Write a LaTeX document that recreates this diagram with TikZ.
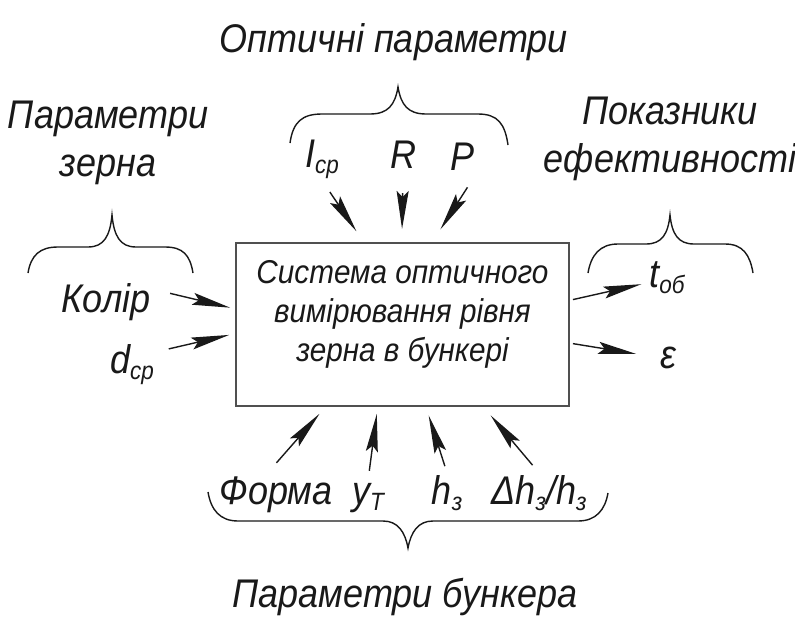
\documentclass[tikz,border=0pt]{standalone}
\usepackage{fontspec}
\setmainfont{Liberation Sans}[FakeStretch=0.9]
\usetikzlibrary{arrows.meta, positioning, calc}
\definecolor{inkdark}{RGB}{25,25,25}
\definecolor{boxgray}{RGB}{80,80,80}
\newcommand{\lowidx}[1]{\raisebox{-0.15em}{\fontsize{25}{25}\selectfont #1}}
\tikzset{
  lbl/.style={font=\fontsize{40}{46}\selectfont\itshape, inner sep=2pt, text=inkdark},
  ttl/.style={font=\fontsize{40}{48}\selectfont\itshape, inner sep=0pt, align=center, text=inkdark},
  sysbox/.style={draw=boxgray, line width=2pt, minimum width=333pt, minimum height=163pt,
    align=center, font=\fontsize{33}{39}\selectfont\itshape, text=inkdark},
  arr/.style={-{Stealth[length=38pt, width=12pt, inset=6pt]}, line width=1.4pt, color=inkdark},
  brc/.style={line width=1.4pt, color=inkdark}
}

\begin{document}
\begin{tikzpicture}[x=1pt, y=-1pt]
  \useasboundingbox (0,0) rectangle (795,616);

  % --- central block ---
  \node[sysbox] (sys) at (402.5,324.5) {Система оптичного\\вимірювання рівня\\зерна в бункері\\[-12pt]\mbox{}};

  % --- group titles ---
  \node[ttl, anchor=base] (optTitle) at (394,52) {Оптичні параметри};
  \node[ttl, anchor=north] (grainTitle) at (108,101) {Параметри\\зерна};
  \node[ttl, anchor=north] (effTitle) at (670,97) {Показники\\ефективності};
  \node[ttl, anchor=base] (bunkTitle) at (405,607) {Параметри бункера};

  % --- braces ---
  \draw[brc] (290,143) .. controls (293,122) and (302,114) .. (322,114) -- (370,114)
    .. controls (388,114) and (395,105) .. (398,87) .. controls (401,105) and (408,114) .. (426,114)
    -- (478,114) .. controls (498,114) and (505,124) .. (508,145);
  \draw[brc] (28,273) .. controls (31,255) and (40,247) .. (58,247) -- (88,247)
    .. controls (104,247) and (110,236) .. (112,215) .. controls (114,236) and (120,247) .. (136,247)
    -- (165,247) .. controls (183,247) and (190,255) .. (193,273);
  \draw[brc] (588,273) .. controls (591,255) and (600,244) .. (618,244) -- (646,244)
    .. controls (662,244) and (668,234) .. (670,215) .. controls (672,234) and (678,244) .. (694,244)
    -- (725,244) .. controls (743,244) and (750,255) .. (753,273);
  \draw[brc] (208,492) .. controls (211,510) and (220,521) .. (238,521) -- (383,521)
    .. controls (398,521) and (405,532) .. (408,548) .. controls (411,532) and (418,521) .. (433,521)
    -- (578,521) .. controls (596,521) and (605,510) .. (608,493);

  % --- optical inputs ---
  \node[lbl, anchor=base] (icp) at (322,167) {I\lowidx{ср}};
  \node[lbl, anchor=base] (rr) at (403,168) {R};
  \node[lbl, anchor=base] (pp) at (463,170) {P};

  % --- grain inputs ---
  \node[lbl, anchor=base] (kolir) at (106,312) {Колір};
  \node[lbl, anchor=base] (dcp) at (132,373) {d\lowidx{ср}};

  % --- efficiency outputs ---
  \node[lbl, anchor=base] (tob) at (667,287) {t\lowidx{об}};
  \node[lbl, anchor=base] (eps) at (668,368) {ε};

  % --- bunker inputs ---
  \node[lbl, anchor=base] (forma) at (276,504) {Форма};
  \node[lbl, anchor=base] (yt) at (368,504) {y\lowidx{T}};
  \node[lbl, anchor=base] (hz) at (447,504) {h\lowidx{з}};
  \node[lbl, anchor=base] (dhz) at (539,504) {Δh\lowidx{з}/h\lowidx{з}};

  % --- points on the block edges ---
  \coordinate (sysN1) at ($(sys.north west)!0.384!(sys.north east)$);
  \coordinate (sysN2) at ($(sys.north west)!0.498!(sys.north east)$);
  \coordinate (sysN3) at ($(sys.north west)!0.589!(sys.north east)$);
  \coordinate (sysW1) at ($(sys.north west)!0.405!(sys.south west)$);
  \coordinate (sysW2) at ($(sys.north west)!0.555!(sys.south west)$);
  \coordinate (sysE1) at ($(sys.north east)!0.353!(sys.south east)$);
  \coordinate (sysE2) at ($(sys.north east)!0.613!(sys.south east)$);
  \coordinate (sysS1) at ($(sys.south west)!0.27!(sys.south east)$);
  \coordinate (sysS2) at ($(sys.south west)!0.426!(sys.south east)$);
  \coordinate (sysS3) at ($(sys.south west)!0.57!(sys.south east)$);
  \coordinate (sysS4) at ($(sys.south west)!0.742!(sys.south east)$);

  % --- arrows ---
  \draw[arr, shorten <=14pt, shorten >=13pt] (icp.south) -- (sysN1);
  \draw[arr, shorten <=23pt, shorten >=13pt] (rr.south) -- (sysN2);
  \draw[arr, shorten <=18pt, shorten >=15pt] (pp.south east) -- (sysN3);
  \draw[arr, shorten <=18pt, shorten >=5pt] (kolir.15) -- (sysW1);
  \draw[arr, shorten <=13pt, shorten >=6pt] (dcp.27) -- (sysW2);
  \draw[arr, shorten <=3pt, shorten >=6pt] (sysE1) -- (tob.196);
  \draw[arr, shorten <=3pt, shorten >=22pt] (sysE2) -- (eps.west);
  \draw[arr, shorten <=15pt, shorten >=9pt] (forma.115) -- (sysS1);
  \draw[arr, shorten <=10pt, shorten >=7pt] (yt.north) -- (sysS2);
  \draw[arr, shorten <=7pt, shorten >=9pt] (hz.north) -- (sysS3);
  \draw[arr, shorten <=10pt, shorten >=11pt] (dhz.north) -- (sysS4);
\end{tikzpicture}
\end{document}
